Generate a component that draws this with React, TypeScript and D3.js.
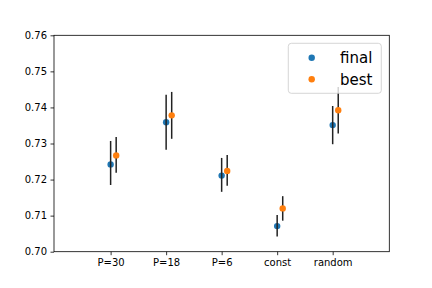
import React, { useEffect, useRef } from 'react';
import * as d3 from 'd3';

const categories = ['P=30', 'P=18', 'P=6', 'const', 'random'];
const finalMean = [0.7242, 0.7359, 0.7211, 0.7071, 0.7351];
const finalLow = [0.7185, 0.7283, 0.7166, 0.7042, 0.7298];
const finalHigh = [0.7307, 0.7435, 0.7260, 0.7102, 0.7404];
const bestMean = [0.7267, 0.7378, 0.7224, 0.7120, 0.7392];
const bestLow = [0.7219, 0.7313, 0.7183, 0.7086, 0.7328];
const bestHigh = [0.7318, 0.7443, 0.7268, 0.7154, 0.7457];
const yTicks = [0.70, 0.71, 0.72, 0.73, 0.74, 0.75, 0.76];

const App = () => {
  const svgRef = useRef<SVGSVGElement>(null);

  useEffect(() => {
    const svg = d3.select(svgRef.current);
    svg.selectAll('*').remove();

    const margin = { top: 35.3, right: 42.7, bottom: 36.3, left: 54 };
    const W = 432, H = 288;
    const width = W - margin.left - margin.right;
    const height = H - margin.top - margin.bottom;
    const font = 'DejaVu Sans, sans-serif';

    const x = d3.scaleLinear().domain([-1.02, 5.02]).range([0, width]);
    const y = d3.scaleLinear().domain([0.70, 0.76]).range([height, 0]);

    svg.append('rect').attr('width', W).attr('height', H).attr('fill', 'white');

    const g = svg.append('g').attr('transform', `translate(${margin.left},${margin.top})`);

    // axes
    const yAxis = g.append('g')
      .call(d3.axisLeft(y).tickValues(yTicks).tickFormat(d3.format('.2f')).tickSize(3.5).tickPadding(3.5));
    const xAxis = g.append('g')
      .attr('transform', `translate(0,${height})`)
      .call(d3.axisBottom(x).tickValues(d3.range(categories.length)).tickFormat((d: any) => categories[d]).tickSize(3.5).tickPadding(3.5));
    [yAxis, xAxis].forEach(a => {
      a.select('.domain').remove();
      a.selectAll('line').attr('stroke', 'black').attr('stroke-width', 0.8);
      a.selectAll('text').attr('fill', 'black').style('font-family', font).style('font-size', '10px');
    });

    // frame
    g.append('rect')
      .attr('width', width).attr('height', height)
      .attr('fill', 'none').attr('stroke', 'black').attr('stroke-width', 0.8);

    const off = 0.1;
    const drawDots = (vals: number[], dx: number, color: string) => {
      g.append('g').selectAll('circle').data(vals).enter().append('circle')
        .attr('cx', (d, i) => x(i + dx)).attr('cy', d => y(d))
        .attr('r', 3.2).attr('fill', color);
    };
    const drawBars = (lo: number[], hi: number[], dx: number) => {
      g.append('g').selectAll('line').data(lo).enter().append('line')
        .attr('x1', (d, i) => x(i + dx)).attr('x2', (d, i) => x(i + dx))
        .attr('y1', d => y(d)).attr('y2', (d, i) => y(hi[i]))
        .attr('stroke', '#222').attr('stroke-width', 1.5);
    };

    drawDots(finalMean, 0, '#1f77b4');
    drawBars(finalLow, finalHigh, 0);
    drawBars(bestLow, bestHigh, off);
    drawDots(bestMean, off, '#ff7f0e');

    // legend
    const leg = svg.append('g').attr('transform', 'translate(288.3,43.3)');
    leg.append('rect')
      .attr('width', 93).attr('height', 50).attr('rx', 3)
      .attr('fill', 'white').attr('fill-opacity', 0.8)
      .attr('stroke', '#ccc').attr('stroke-width', 0.8);
    const items = [
      { label: 'final', color: '#1f77b4' },
      { label: 'best', color: '#ff7f0e' },
    ];
    items.forEach((it, i) => {
      const cy = 14.4 + i * 21.6;
      leg.append('circle').attr('cx', 23.4).attr('cy', cy).attr('r', 3.2).attr('fill', it.color);
      leg.append('text')
        .attr('x', 51.7).attr('y', cy).attr('dy', '0.36em')
        .attr('fill', 'black')
        .style('font-family', font).style('font-size', '15px')
        .text(it.label);
    });
  }, []);

  return (
    <svg ref={svgRef} width={432} height={288}
      style={{ position: 'absolute', left: 0, top: 0, display: 'block' }} />
  );
};

export default App;
